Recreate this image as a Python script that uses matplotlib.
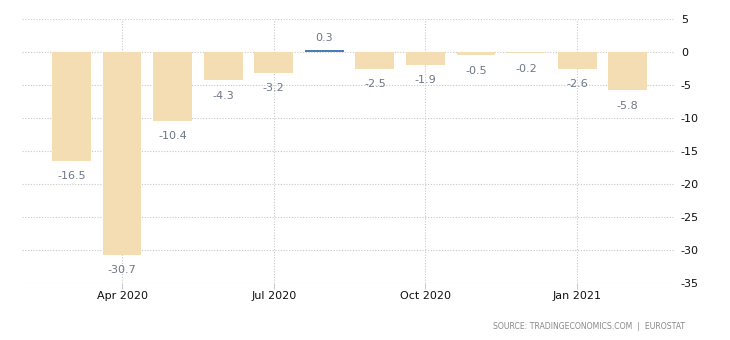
import matplotlib.pyplot as plt

months = ['Mar 2020', 'Apr 2020', 'May 2020', 'Jun 2020', 'Jul 2020', 'Aug 2020',
          'Sep 2020', 'Oct 2020', 'Nov 2020', 'Dec 2020', 'Jan 2021', 'Feb 2021']
values = [-16.5, -30.7, -10.4, -4.3, -3.2, 0.3, -2.5, -1.9, -0.5, -0.2, -2.6, -5.8]
xtick_labels = ['Apr 2020', 'Jul 2020', 'Oct 2020', 'Jan 2021']
yticks = [5, 0, -5, -10, -15, -20, -25, -30, -35]

fig = plt.figure(figsize=(7.3, 3.4), dpi=100)
ax = fig.add_axes([0.030, 0.168, 0.895, 0.776])

x = list(range(len(values)))
for i, v in zip(x, values):
    if v >= 0:
        ax.bar(i, v, width=0.77, color='#4a7fb5', zorder=3)
        ax.annotate(f'{v:.1f}', (i, v), xytext=(0, 9), textcoords='offset points',
                    ha='center', va='center', fontsize=8, color='#6e7687')
    else:
        ax.bar(i, v, width=0.77, color='#f4ddb3', zorder=3)
        ax.annotate(f'{v:.1f}', (i, v), xytext=(0, -11), textcoords='offset points',
                    ha='center', va='center', fontsize=8, color='#6e7687')

ax.set_xlim(-0.98, 11.94)
ax.set_ylim(-35, 5)
ax.set_yticks(yticks)
ax.set_yticklabels([str(t) for t in yticks])
ax.yaxis.tick_right()
ax.set_xticks([months.index(m) for m in xtick_labels])
ax.set_xticklabels(xtick_labels)

ax.tick_params(axis='y', length=0, pad=4, labelsize=8, labelcolor='#111111')
ax.tick_params(axis='x', length=4, color='#cccccc', pad=2, labelsize=8, labelcolor='#111111')
ax.grid(True, linestyle=(0, (1, 1.5)), color='#c8c8c8', linewidth=0.8, zorder=0)
for s in ax.spines.values():
    s.set_visible(False)

fig.text(0.938, 0.04, 'SOURCE: TRADINGECONOMICS.COM  |  EUROSTAT', ha='right', va='center',
         fontsize=5.6, color='#888888')

fig.savefig('out.png', dpi=100)
